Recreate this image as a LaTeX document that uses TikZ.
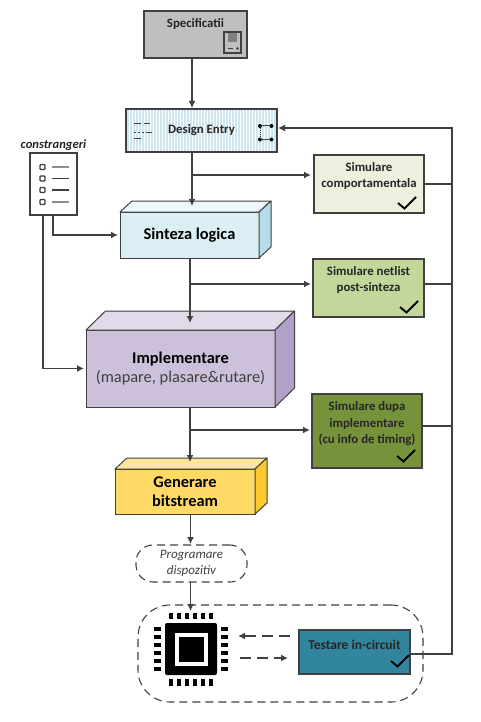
\documentclass[tikz,border=0pt]{standalone}
\usepackage{fontspec}
\setmainfont{Carlito}
\usetikzlibrary{positioning,arrows.meta}
\definecolor{edge}{HTML}{404040}
\definecolor{stripe}{HTML}{CFE6F0}
\definecolor{sintfront}{HTML}{DAEEF3}
\definecolor{sinttop}{HTML}{EDF6F9}
\definecolor{sintside}{HTML}{B7DDE8}
\definecolor{implfront}{HTML}{CCC0DA}
\definecolor{impltop}{HTML}{E0DAE9}
\definecolor{implside}{HTML}{B1A0C7}
\definecolor{genfront}{HTML}{FFD966}
\definecolor{gentop}{HTML}{FFE699}
\definecolor{genside}{HTML}{FFC82E}
\definecolor{simone}{HTML}{EBF1DE}
\definecolor{simtwo}{HTML}{C4D79B}
\definecolor{simthree}{HTML}{76933C}
\definecolor{testfill}{HTML}{31859C}

% the two extra faces of a block
\newcommand{\blockfaces}[4]{%
  \draw[blockedge,fill=#3] (#1.north west) -- ++(#2) -- ([shift={(#2)}]#1.north east) -- (#1.north east) -- cycle;
  \draw[blockedge,fill=#4] (#1.north east) -- ([shift={(#2)}]#1.north east) -- ([shift={(#2)}]#1.south east) -- (#1.south east) -- cycle;
}
\newcommand{\tickmark}[2]{%
  \draw[tick] ([shift={(#2)}]#1.south east) -- ++(6.5pt,-5.5pt) -- ++(11.5pt,11.5pt);
}

\begin{document}
\begin{tikzpicture}
[x=1pt,y=1pt,>={Latex[length=7pt,width=7pt]},
 flow/.style={draw=edge,line width=1.4pt,shorten >=1pt},
 dashflow/.style={flow,dash pattern=on 11pt off 6pt},
 tick/.style={black,line width=1.9pt},
 blockedge/.style={draw=edge,line width=1pt,line join=round},
 plainbox/.style={shape=rectangle,draw=edge,line width=1.2pt,inner sep=0pt,outer sep=0pt,align=center},
 simbox/.style={plainbox,font=\bfseries\fontsize{12.8}{16.5}\selectfont,text=black!85},
 blockfront/.style={plainbox,line width=1pt,font=\bfseries\fontsize{16.4}{19.5}\selectfont},
 dashzone/.style={shape=rectangle,draw=edge,line width=1.1pt,dash pattern=on 8pt off 5pt,inner sep=0pt,outer sep=0pt,align=center},
 pin/.style={fill=black,inner sep=0pt,outer sep=0pt,rectangle}]
\useasboundingbox (0,0) rectangle (481,-722);

% main column
\node[plainbox,fill=black!25,minimum width=103pt,minimum height=47pt,text depth=22pt,font=\bfseries\fontsize{12.8}{14}\selectfont,text=black!85] (spec) at (195.5,-34.5) {Specificatii};
\node[plainbox,minimum width=151pt,minimum height=43pt,font=\bfseries\fontsize{12.8}{14}\selectfont,text=black!85,
  path picture={\foreach \sx in {2,5,...,150}
    \draw[stripe,line width=1.1pt] ([xshift=\sx pt]path picture bounding box.south west) -- ([xshift=\sx pt]path picture bounding box.north west);},
  below=51pt of spec,xshift=6pt] (entry) {Design Entry};
\node[blockfront,fill=sintfront,minimum width=139pt,minimum height=46pt,below=60pt of entry,xshift=-12pt] (sinteza) {Sinteza logica};
\node[blockfront,fill=implfront,minimum width=189pt,minimum height=77pt,below=72pt of sinteza,xshift=-9pt] (impl) {Implementare\\{\mdseries\color{edge}(mapare, plasare\&rutare)}};
\node[blockfront,fill=genfront,minimum width=140pt,minimum height=45pt,below=62pt of impl,xshift=4.5pt] (gen) {Generare\\bitstream};
\blockfaces{sinteza}{12pt,11pt}{sinttop}{sintside}
\blockfaces{impl}{19.5pt,19pt}{impltop}{implside}
\blockfaces{gen}{12pt,11pt}{gentop}{genside}

\node[dashzone,minimum width=111pt,minimum height=37pt,rounded corners=17pt,below=31pt of gen,xshift=6.5pt,font=\itshape\fontsize{13}{16.5}\selectfont,text=edge] (prog) {Programare\\dispozitiv};
\node[dashzone,minimum width=285pt,minimum height=97pt,rounded corners=32pt,below=23pt of prog,xshift=89pt] (circuit) {};

% chip
\node[fill=black,minimum size=52pt,inner sep=0pt,outer sep=0pt,rounded corners=2pt,right=27pt of circuit.west,yshift=4.5pt] (chip) {};
\node[draw=white,fill=black,line width=4pt,minimum size=29pt,inner sep=0pt] (core) at (chip) {};
\foreach \px in {-20,-12,-4,4,12,20} {
  \node[pin,minimum width=4.5pt,minimum height=6.5pt,above=4pt of chip.north,xshift=\px pt] {};
  \node[pin,minimum width=4.5pt,minimum height=6.5pt,below=4pt of chip.south,xshift=\px pt] {};
  \node[pin,minimum width=7pt,minimum height=4pt,left=4pt of chip.west,yshift=\px pt] {};
  \node[pin,minimum width=7pt,minimum height=4pt,right=4pt of chip.east,yshift=\px pt] {};
}
\node[plainbox,fill=testfill,minimum width=111pt,minimum height=44pt,left=13pt of circuit.east,yshift=1.5pt,text depth=14pt,font=\bfseries\fontsize{13.5}{14}\selectfont,text=black!85] (testare) {Testare in-circuit};
\tickmark{testare}{-19pt,13pt}

% simulation boxes
\node[simbox,fill=simone,minimum width=110pt,minimum height=58pt,text depth=18pt,below right=3pt and 37pt of entry] (comp) {Simulare\\comportamentala};
\node[simbox,fill=simtwo,minimum width=111pt,minimum height=58pt,text depth=18pt,below right=1pt and 54pt of sinteza] (netlist) {Simulare netlist\\post-sinteza};
\node[simbox,fill=simthree,minimum width=110pt,minimum height=74pt,text depth=16pt,right=37pt of impl,yshift=-62.5pt] (dupa) {Simulare dupa\\implementare\\(cu info de timing)};
\tickmark{comp}{-26pt,10pt}
\tickmark{netlist}{-24pt,10pt}
\tickmark{dupa}{-25pt,12pt}

% spec icon
\node[draw=edge,fill=black!25,line width=1.3pt,minimum width=17pt,minimum height=21pt,inner sep=0pt] (specicon) at (232.5,-42.5) {};
\node[fill=black!50,minimum width=9pt,minimum height=9pt,inner sep=0pt,above=1.5pt of specicon.center,yshift=-1pt] (specscreen) {};
\draw[edge,line width=1.6pt] ([shift={(-4.5pt,-6pt)}]specicon.center) -- ++(5pt,0pt);
\fill[edge] ([shift={(5pt,-6pt)}]specicon.center) circle (1.3pt);

% entry icons
\foreach \ly/\lx/\lw in {7/0/7,7/9.5/6,-2/0/2,-2/4/2,-2/8/2,-2/12/6,-8/0/7} {
  \draw[edge,line width=1.4pt] ([shift={(8pt+\lx pt,\ly pt)}]entry.west) -- ++(\lw pt,0pt);
}
\foreach \ix/\iy in {-5.5/2.5,-5.5/-11,-17/2.5,-17/-11} {
  \fill[black] ([shift={(\ix pt,\iy pt+2pt)}]entry.east) circle (2pt);
}
\draw[edge,line width=1pt] ([shift={(-16pt,4.5pt)}]entry.east) -- ++(10pt,0pt);
\draw[edge,line width=1pt] ([shift={(-16pt,-9pt)}]entry.east) -- ++(10pt,0pt);
\draw[edge,line width=1pt,densely dotted] ([shift={(-17pt,4.5pt)}]entry.east) -- ++(0pt,-13pt);

% constraints list
\node[plainbox,draw=edge,fill=white,minimum width=47pt,minimum height=62pt,line width=1.3pt] (constr) at (53.5,-184) {};
\node[above=1pt of constr,inner sep=1pt,font=\itshape\bfseries\fontsize{12.6}{14}\selectfont,text=black!85] (constrlabel) {constrangeri};
\foreach \ly/\lc in {17/black!45,5.5/edge,-6/edge,-18/black!45} {
  \draw[edge,line width=1.4pt,fill=white,rounded corners=.8pt] ([shift={(-13.5pt,\ly pt-2.5pt)}]constr.center) rectangle ++(5pt,5pt);
  \draw[\lc,line width=1.2pt] ([shift={(-1.5pt,\ly pt)}]constr.center) -- ++(17pt,0pt);
}

% connectors
\draw[flow,->] ([xshift=-3.5pt]spec.south) -- ([xshift=-9.5pt]entry.north);
\draw[flow,->] ([xshift=-9.5pt]entry.south) -- ([xshift=2.5pt,yshift=5pt]sinteza.north);
\draw[flow,->] ([xshift=-9.5pt,yshift=-23pt]entry.south) -- ([xshift=-2pt,yshift=9pt]comp.west);
\draw[flow,->] ([xshift=.5pt]sinteza.south) -- ([xshift=9.5pt,yshift=6pt]impl.north);
\draw[flow,->] ([xshift=.5pt,yshift=-26pt]sinteza.south) -- ([xshift=-1pt,yshift=4pt]netlist.west);
\draw[flow,->] ([xshift=9.5pt]impl.south) -- ([xshift=5pt,yshift=6pt]gen.north);
\draw[flow,->] ([xshift=9.5pt,yshift=-23pt]impl.south) -- ([xshift=-1pt,yshift=1pt]dupa.west);
\draw[flow,->] ([xshift=5.5pt]gen.south) -- ([xshift=-1pt]prog.north);
\draw[flow,->] ([xshift=-1pt]prog.south) -- ([xshift=-.5pt,yshift=11pt]chip.north);
\draw[flow,->] ([xshift=-10.5pt]constr.south) |- ([xshift=-1pt]impl.west);
\draw[flow,->] ([xshift=-.5pt]constr.south) |- ([xshift=-1pt]sinteza.west);
\draw[dashflow,->] ([xshift=-9pt,yshift=16pt]testare.west) -- ([xshift=20pt,yshift=13pt]chip.east);
\draw[dashflow,->] ([xshift=23pt,yshift=-9pt]chip.east) -- ([xshift=-10pt,yshift=-6pt]testare.west);

% feedback bus
\coordinate (bus) at ([xshift=175pt,yshift=2.5pt]entry.east);
\draw[flow,->] ([yshift=-2pt]testare.east) -| (bus) -- ([yshift=2.5pt]entry.east);
\draw[flow] (comp.east) -- (comp.east -| bus);
\draw[flow] ([yshift=4pt]netlist.east) -- ([yshift=4pt]netlist.east -| bus);
\draw[flow] ([yshift=5pt]dupa.east) -- ([yshift=5pt]dupa.east -| bus);
\end{tikzpicture}
\end{document}
